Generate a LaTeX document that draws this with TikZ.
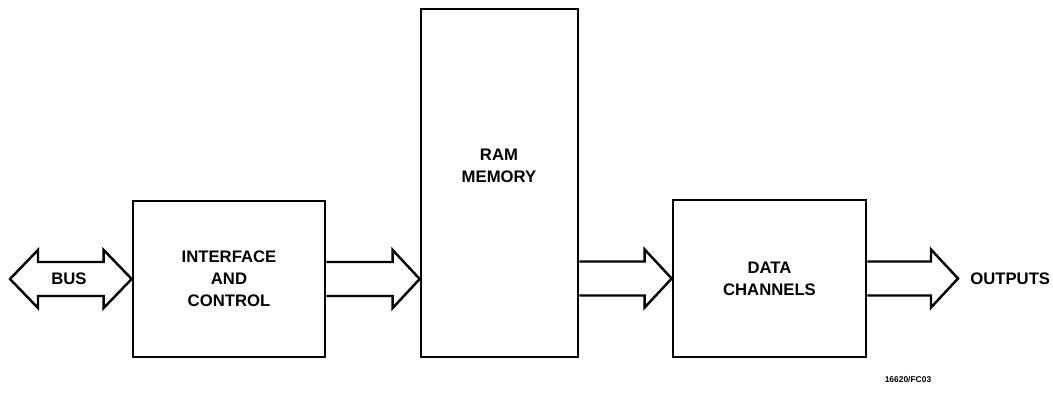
\documentclass[tikz,border=0pt]{standalone}
\usepackage{fontspec}
\setmainfont{Liberation Sans}
\usepackage{tikz}
\usetikzlibrary{calc,positioning}
% hollow block arrows: #1 tail, #2 tip (same height)
\newcommand{\fatarrow}[2]{%
  \draw[fat] let \p1=(#1), \p2=(#2) in
    (\x1,\y1+3.4mm) -- (\x2-5.4mm,\y1+3.4mm) -- (\x2-5.4mm,\y1+5.8mm) -- (\x2,\y1)
    -- (\x2-5.4mm,\y1-5.8mm) -- (\x2-5.4mm,\y1-3.4mm) -- (\x1,\y1-3.4mm);}
\newcommand{\busarrow}[2]{%
  \draw[fat] let \p1=(#1), \p2=(#2) in
    (\x1,\y1) -- (\x1+5.6mm,\y1+5.8mm) -- (\x1+5.6mm,\y1+3.4mm) -- (\x2-5.6mm,\y1+3.4mm)
    -- (\x2-5.6mm,\y1+5.8mm) -- (\x2,\y1) -- (\x2-5.6mm,\y1-5.8mm) -- (\x2-5.6mm,\y1-3.4mm)
    -- (\x1+5.6mm,\y1-3.4mm) -- (\x1+5.6mm,\y1-5.8mm) -- cycle;}

\begin{document}
\begin{tikzpicture}[
  font=\fontsize{9.5}{12.5}\selectfont\bfseries,
  blk/.style={draw, line width=1.5pt, align=center, inner sep=0pt},
  fat/.style={draw, line width=1.4pt, line join=miter},
  lbl/.style={inner sep=0pt, align=center}
]
\useasboundingbox (0,0) rectangle (21.06,-7.86);

% Blocks
\node[blk, minimum width=3.84cm, minimum height=3.12cm] (iface) at (4.58,-5.58) {INTERFACE\\AND\\CONTROL};
\node[blk, minimum width=3.14cm, minimum height=6.96cm] (ram) at (9.99,-3.66) {};
\node[lbl] (ramtext) at (9.98,-3.32) {RAM\\MEMORY};
\node[blk, minimum width=3.86cm, minimum height=3.14cm] (data) at (15.39,-5.57) {DATA\\CHANNELS};

% Ends
\coordinate (busend) at (0.2,-5.58);
\node[lbl] (bus) at (1.38,-5.58) {BUS};
\coordinate (outtip) at (19.16,-5.58);
\node[lbl, anchor=west] (outputs) at (19.4,-5.58) {OUTPUTS};
\node[lbl, font=\fontsize{4.8}{5}\selectfont\bfseries] (figno) at (18.16,-7.6) {16620/FC03};

% Data paths
\busarrow{busend}{iface.west}
\fatarrow{iface.east}{ram.west |- iface.east}
\fatarrow{ram.east |- data.west}{data.west}
\fatarrow{data.east}{outtip}
\end{tikzpicture}
\end{document}
